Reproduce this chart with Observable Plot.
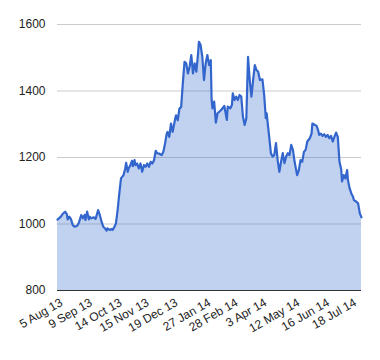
<!DOCTYPE html>
<html><head><meta charset="utf-8">
<script src="https://cdn.jsdelivr.net/npm/d3@7"></script>
<script src="https://cdn.jsdelivr.net/npm/@observablehq/plot@0.6"></script>
<style>body{margin:0;background:#fff}</style>
</head><body><div id="chart"></div>
<script>
const dates = ["2013-08-05","2013-08-09","2013-08-11","2013-08-14","2013-08-16","2013-08-17","2013-08-19","2013-08-21","2013-08-23","2013-08-25","2013-08-28","2013-08-30","2013-08-31",
"2013-09-02","2013-09-04","2013-09-06","2013-09-07","2013-09-09","2013-09-11","2013-09-12","2013-09-14","2013-09-17","2013-09-19","2013-09-22","2013-09-24","2013-09-26","2013-09-28","2013-09-30",
"2013-10-02","2013-10-03","2013-10-06","2013-10-08","2013-10-09","2013-10-11","2013-10-13","2013-10-15","2013-10-17","2013-10-19","2013-10-22","2013-10-24","2013-10-25","2013-10-27","2013-10-28","2013-10-30",
"2013-11-01","2013-11-02","2013-11-04","2013-11-05","2013-11-07","2013-11-09","2013-11-11","2013-11-13","2013-11-15","2013-11-17","2013-11-19","2013-11-21","2013-11-23","2013-11-25","2013-11-27","2013-11-29",
"2013-12-01","2013-12-03","2013-12-06","2013-12-08","2013-12-10","2013-12-12","2013-12-13","2013-12-15","2013-12-17","2013-12-19","2013-12-22","2013-12-23","2013-12-25","2013-12-27","2013-12-29","2013-12-31",
"2014-01-02","2014-01-04","2014-01-06","2014-01-08","2014-01-10","2014-01-12","2014-01-14","2014-01-16","2014-01-18","2014-01-19","2014-01-21","2014-01-23","2014-01-25","2014-01-27","2014-01-29","2014-01-31",
"2014-02-02","2014-02-03","2014-02-04","2014-02-06","2014-02-08","2014-02-10","2014-02-13","2014-02-15","2014-02-18","2014-02-21","2014-02-22","2014-02-25","2014-02-27","2014-02-28",
"2014-03-02","2014-03-04","2014-03-06","2014-03-08","2014-03-10","2014-03-12","2014-03-14","2014-03-16","2014-03-18","2014-03-20","2014-03-22","2014-03-24","2014-03-26","2014-03-28","2014-03-30",
"2014-04-01","2014-04-04","2014-04-06","2014-04-08","2014-04-09","2014-04-12","2014-04-14","2014-04-16","2014-04-18","2014-04-20","2014-04-22","2014-04-24","2014-04-26","2014-04-28","2014-04-30",
"2014-05-02","2014-05-04","2014-05-06","2014-05-08","2014-05-10","2014-05-12","2014-05-15","2014-05-17","2014-05-19","2014-05-21","2014-05-23","2014-05-25","2014-05-27","2014-05-30",
"2014-06-01","2014-06-02","2014-06-05","2014-06-07","2014-06-09","2014-06-10","2014-06-12","2014-06-14","2014-06-16","2014-06-18","2014-06-20","2014-06-22","2014-06-24","2014-06-26","2014-06-28","2014-06-30",
"2014-07-02","2014-07-04","2014-07-06","2014-07-07","2014-07-09","2014-07-11","2014-07-13","2014-07-14","2014-07-16","2014-07-18","2014-07-20","2014-07-21","2014-07-24","2014-07-26","2014-07-27","2014-07-28","2014-07-30"];
const prices = [1013,1022,1030,1037,1030,1014,1022,1014,997,992,994,1002,1010,
1027,1017,1027,1012,1037,1014,1022,1017,1020,1015,1042,1027,1007,992,987,
980,987,982,985,982,990,1002,1042,1092,1137,1147,1167,1184,1157,1167,1177,
1190,1174,1192,1177,1182,1167,1182,1157,1177,1172,1182,1172,1187,1182,1192,1220,
1212,1212,1207,1217,1242,1272,1277,1262,1302,1277,1317,1327,1312,1347,1352,1423,
1488,1483,1453,1473,1508,1453,1483,1458,1513,1548,1538,1503,1433,1483,1508,1478,
1493,1373,1348,1368,1305,1333,1340,1345,1355,1313,1353,1348,1358,1393,
1373,1383,1373,1388,1383,1323,1298,1318,1503,1433,1383,1433,1478,1463,1458,
1433,1435,1390,1318,1333,1262,1213,1203,1207,1243,1192,1157,1187,1213,1183,
1203,1213,1207,1238,1223,1187,1147,1162,1192,1187,1217,1223,1248,1258,
1272,1302,1298,1295,1280,1268,1272,1265,1270,1262,1268,1258,1265,1248,1262,1275,
1262,1187,1165,1128,1147,1137,1162,1132,1107,1092,1082,1072,1067,1062,1047,1032,1020];
const tickDates = ["2013-08-05","2013-09-09","2013-10-14","2013-11-15","2013-12-19","2014-01-27","2014-02-28","2014-04-03","2014-05-12","2014-06-16","2014-07-18"];
const yTicks = [800, 1000, 1200, 1400, 1600];

const data = dates.map((d, i) => ({date: new Date(d), price: prices[i]}));
const chart = Plot.plot({
  width: 380, height: 360,
  marginLeft: 57, marginRight: 19, marginTop: 24, marginBottom: 70,
  style: {fontFamily: "'Liberation Sans', Arial, sans-serif", fontSize: "12px", color: "#222", background: "#fff"},
  x: {type: "utc", domain: [new Date("2013-08-05"), new Date("2014-07-30")]},
  y: {domain: [800, 1600]},
  marks: [
    Plot.gridY(yTicks, {stroke: "#ccc", strokeOpacity: 1}),
    Plot.areaY(data, {x: "date", y1: 800, y2: "price", fill: "#3366cc", fillOpacity: 0.3}),
    Plot.lineY(data, {x: "date", y: "price", stroke: "#3366cc", strokeWidth: 2.2}),
    Plot.ruleY([800], {stroke: "#333"}),
    Plot.axisY(yTicks, {tickSize: 0, tickPadding: 12, label: null, fill: "#222", tickFormat: d => String(d)}),
    Plot.axisX(tickDates.map(d => new Date(d)), {tickSize: 0, tickPadding: 11, dx: 4, tickRotate: -30, tickFormat: d3.utcFormat("%-d %b %y"), label: null, fill: "#222"})
  ]
});
document.getElementById("chart").append(chart);
</script></body></html>
